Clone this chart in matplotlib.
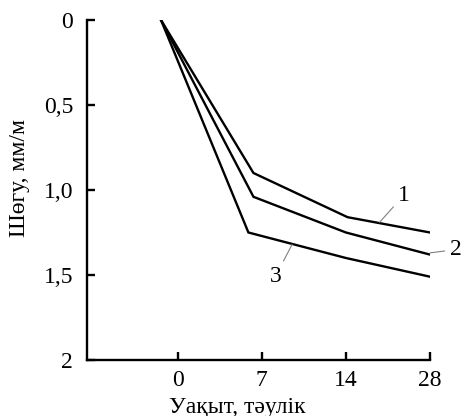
import matplotlib
matplotlib.use("Agg")
import matplotlib.pyplot as plt

plt.rcParams['font.family'] = ['Liberation Serif', 'DejaVu Serif']

# data (x as category position: 0 -> "0", 1 -> "7", 2 -> "14", 3 -> "28")
days = ["0", "7", "14", "28"]
x1 = [-0.2, 0.9, 2.02, 3.0]
y1 = [0.0, 0.90, 1.16, 1.25]
x2 = [-0.2, 0.9, 2.0, 3.0]
y2 = [0.0, 1.04, 1.25, 1.38]
x3 = [-0.2, 0.84, 2.0, 3.0]
y3 = [0.0, 1.25, 1.40, 1.51]
yticks = [0, 0.5, 1.0, 1.5, 2]
ylabels = ["0", "0,5", "1,0", "1,5", "2"]

fig = plt.figure(figsize=(4.67, 4.16), dpi=100)
ax = fig.add_axes([87/467, 1 - 360/416, (430 - 87)/467, 340/416])

for xs, ys in [(x1, y1), (x2, y2), (x3, y3)]:
    ax.plot(xs, ys, color="black", lw=1.7, solid_joinstyle="miter")

ax.set_xlim(-1.08, 3)
ax.set_ylim(2, 0)
ax.set_xticks(range(len(days)))
ax.set_xticklabels(days)
ax.set_yticks(yticks)
ax.set_yticklabels(ylabels)

for s in ["top", "right"]:
    ax.spines[s].set_visible(False)
for s in ["left", "bottom"]:
    ax.spines[s].set_linewidth(1.7)

ax.tick_params(direction="in", length=6, width=1.7, labelsize=17)
ax.tick_params(axis="y", pad=10)
ax.tick_params(axis="x", pad=7)

ax.set_ylabel("Шөгу, мм/м", fontsize=17)
ax.yaxis.set_label_coords(-0.165, 0.535)
ax.set_xlabel("Уақыт, тәулік", fontsize=17)
ax.xaxis.set_label_coords(0.437, -0.11)

# curve labels with leader lines
leader = dict(arrowstyle="-", color="gray", lw=0.8, shrinkB=0, shrinkA=2)
ax.annotate("1", xy=(2.4, 1.19), xytext=(2.69, 1.03), fontsize=17,
            ha="center", va="center", arrowprops=leader)
ax.annotate("2", xy=(3.0, 1.37), xytext=(3.31, 1.35), fontsize=17,
            ha="center", va="center", annotation_clip=False, arrowprops=leader)
ax.annotate("3", xy=(1.36, 1.32), xytext=(1.16, 1.51), fontsize=17,
            ha="center", va="center", arrowprops=leader)

fig.savefig("out.png", dpi=100)
